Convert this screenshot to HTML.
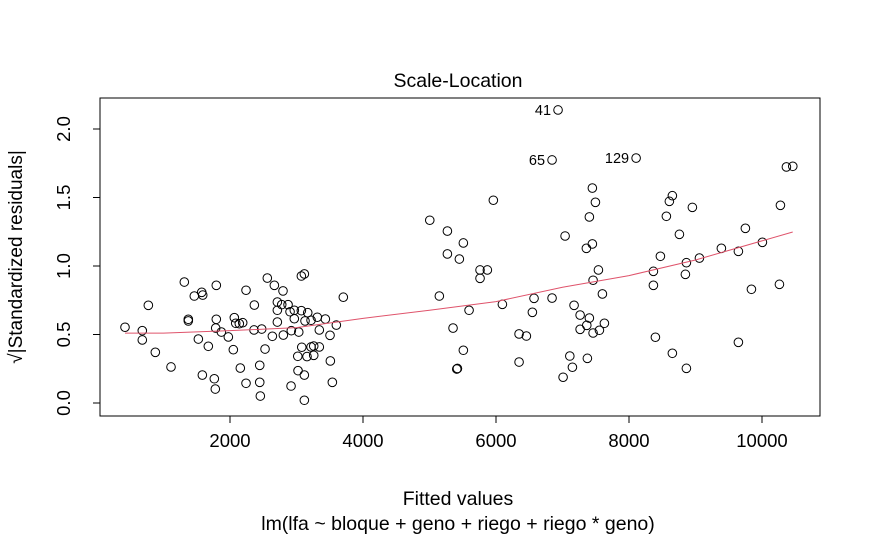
<!DOCTYPE html>
<html><head><meta charset="utf-8"><style>
html,body{margin:0;padding:0;background:#fff;}
svg{display:block;font-family:"Liberation Sans",Arial,sans-serif;}
</style></head>
<body>
<svg id="chart" width="870" height="537" viewBox="0 0 870 537">
<rect x="0" y="0" width="870" height="537" fill="#fff"/>
<text x="458" y="87" font-size="19.5" text-anchor="middle">Scale-Location</text>
<rect x="100" y="98" width="720" height="318" fill="none" stroke="#000" stroke-width="1"/>
<g id="xticks"></g>
<g id="yticks"></g>
<text x="458" y="505" font-size="19.5" text-anchor="middle">Fitted values</text>
<text x="458" y="530" font-size="19.5" text-anchor="middle">lm(lfa ~ bloque + geno + riego + riego * geno)</text>
<text transform="translate(22,257) rotate(-90)" font-size="19" text-anchor="middle">√|Standardized residuals|</text>
<g id="points"></g>
<polyline id="smooth" fill="none" stroke="#DF536B" stroke-width="1"/>
<g id="labels"></g>
</svg>
<script>
const fitted = [421,681,681,772,877,1113,1313,1373,1373,1463,1575,1590,1524,1584,1674,1794,1794,1785,1870,1764,1779,1975,2050,2065,2086,2140,2191,2155,2241,2241,2366,2361,2477,2447,2447,2456,2527,2561,2637,2667,2712,2712,2712,2778,2797,2802,2873,2903,2922,2918,2967,2967,3034,3019,3023,3073,3118,3073,3079,3128,3118,3118,3169,3158,3219,3219,3259,3259,3313,3343,3343,3434,3504,3509,3539,3599,3704,
5004,5960,5269,5509,5269,5449,5760,5870,5760,5148,5595,6096,5354,5509,5410,5420,6347,6457,6547,6572,6843,6347,7039,7449,7495,7404,7449,7359,7540,7460,7600,7174,7265,7404,7365,7630,7265,7460,7555,7110,7374,7149,7009,6933,6843,8107,
10367,10463,8652,8607,8953,10277,8562,9750,8758,10006,9389,9645,8472,9059,8863,8367,8848,8367,9841,10262,8397,9645,8652,8863];
const sqrtres = [0.553,0.528,0.460,0.713,0.370,0.263,0.883,0.611,0.599,0.781,0.808,0.788,0.467,0.204,0.414,0.859,0.611,0.547,0.518,0.177,0.102,0.482,0.389,0.623,0.582,0.579,0.586,0.255,0.823,0.144,0.715,0.533,0.540,0.275,0.151,0.051,0.394,0.912,0.487,0.859,0.737,0.677,0.591,0.718,0.818,0.496,0.718,0.666,0.528,0.124,0.677,0.615,0.518,0.341,0.236,0.927,0.942,0.674,0.407,0.599,0.204,0.020,0.659,0.339,0.604,0.409,0.416,0.348,0.626,0.533,0.409,0.613,0.494,0.307,0.151,0.569,0.772,
1.334,1.480,1.255,1.168,1.088,1.051,0.971,0.971,0.910,0.781,0.677,0.720,0.547,0.385,0.248,0.252,0.504,0.489,0.662,0.764,0.766,0.299,1.219,1.569,1.465,1.358,1.161,1.129,0.971,0.896,0.796,0.713,0.642,0.620,0.567,0.582,0.538,0.511,0.531,0.343,0.326,0.261,0.188,2.139,1.774,1.788,
1.723,1.728,1.513,1.472,1.428,1.443,1.363,1.275,1.231,1.173,1.129,1.107,1.071,1.058,1.024,0.961,0.939,0.859,0.830,0.866,0.480,0.443,0.363,0.253];
const labelIds = ["41","65","129"];
const labelX = [6933,6843,8107];
const labelY = [2.139,1.774,1.788];
const smoothX = [421,1000,2000,3000,4000,5000,6000,7000,8000,9000,10462];
const smoothY = [0.51,0.51,0.528,0.55,0.618,0.677,0.74,0.845,0.93,1.044,1.248];
const xTicks = [2000,4000,6000,8000,10000];
const xTickLabels = ["2000","4000","6000","8000","10000"];
const yTicks = [0,0.5,1,1.5,2];
const yTickLabels = ["0.0","0.5","1.0","1.5","2.0"];

const NS = "http://www.w3.org/2000/svg";
function xs(v){return 97 + v*0.0665;}
function ys(v){return 403 - v*137;}
function mk(tag, attrs, parent){const e=document.createElementNS(NS,tag);for(const k in attrs)e.setAttribute(k,attrs[k]);parent.appendChild(e);return e;}

const gx=document.getElementById('xticks');
mk('line',{x1:xs(xTicks[0]),x2:xs(xTicks[xTicks.length-1]),y1:416,y2:416,stroke:'#000'},gx);
xTicks.forEach((t,i)=>{
  const l=mk('line',{x1:xs(t),x2:xs(t),y1:416,y2:423,stroke:'#000'},gx);
  
  
  const tx=mk('text',{x:xs(t),y:447,'font-size':18.5,'text-anchor':'middle'},gx);
  tx.textContent=xTickLabels[i];
  
  
});
const gy=document.getElementById('yticks');
mk('line',{x1:100,x2:100,y1:ys(yTicks[0]),y2:ys(yTicks[yTicks.length-1]),stroke:'#000'},gy);
yTicks.forEach((t,i)=>{
  const l=mk('line',{x1:93,x2:100,y1:ys(t),y2:ys(t),stroke:'#000'},gy);
  
  
  const tx=mk('text',{transform:`translate(70,${ys(t)}) rotate(-90)`,'font-size':18.5,'text-anchor':'middle'},gy);
  tx.textContent=yTickLabels[i];
  
  
});
const gp=document.getElementById('points');
fitted.forEach((f,i)=>{
  const c=mk('circle',{cx:xs(f),cy:ys(sqrtres[i]),r:4.3,fill:'none',stroke:'#000','stroke-width':1},gp);
  
  
});
document.getElementById('smooth').setAttribute('points',smoothX.map((x,i)=>xs(x)+','+ys(smoothY[i])).join(' '));
const gl=document.getElementById('labels');
labelIds.forEach((id,i)=>{
  const t=mk('text',{x:xs(labelX[i])-7,y:ys(labelY[i])+5,'font-size':14.5,'text-anchor':'end'},gl);
  t.textContent=id;
  
  
});
</script>
</body></html>
